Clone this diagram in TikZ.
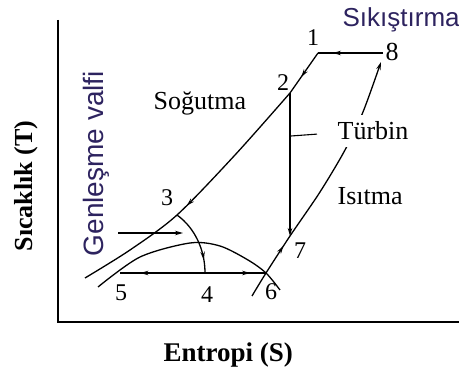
\documentclass[tikz,border=0pt]{standalone}
\usepackage{fontspec}
\setmainfont{Liberation Serif}
\newfontfamily\sansfont{Liberation Sans}
\usetikzlibrary{arrows.meta,decorations.markings}
\definecolor{navy}{RGB}{45,35,95}

\begin{document}
\begin{tikzpicture}[x=1pt, y=-1pt, line width=1.3pt, >={Stealth[length=8pt,width=4.5pt]},
    num/.style={font=\fontsize{24}{24}\selectfont, inner sep=0pt},
    lbl/.style={font=\fontsize{26}{26}\selectfont, inner sep=0pt},
    sans/.style={font=\sansfont\fontsize{26}{26}\selectfont, text=navy, inner sep=0pt},
    axlbl/.style={font=\bfseries\fontsize{27}{27}\selectfont, inner sep=0pt},
    midarrow/.style={postaction={decorate}, decoration={markings, mark=at position #1 with {\arrow{Stealth[length=8pt,width=4.5pt]}}}}]
        \useasboundingbox (0,0) rectangle (459,371);
        % state points
        \coordinate (p1) at (318,53);
        \coordinate (p8) at (383,53);
        \coordinate (p2) at (290,93);
        \coordinate (p3) at (177,215);
        \coordinate (p4) at (205,273);
        \coordinate (p5) at (120,273);
        \coordinate (p6) at (266,273);
        \coordinate (p7) at (290,236);
        \coordinate (send) at (85,278);
        \coordinate (vstart) at (118,233);
        \coordinate (vend) at (183,233);
        \coordinate (ytop) at (58,20);
        \coordinate (orig) at (58,322);
        \coordinate (xend) at (459,322);
        % axes
        \draw[line width=1.6pt] (ytop) -- (orig) -- (xend);
        \node[name=ylab, axlbl, font=\bfseries\fontsize{26}{26}\selectfont, rotate=90, anchor=base west] at (33,252) {Sıcaklık (T)};
        \node[name=xlab, axlbl, anchor=base west] at (163,362) {Entropi (S)};
        % cycle
        \draw[midarrow=0.77] (p8) -- (p1);
        \draw[midarrow=0.6] (p1) -- (p2);
        \draw[midarrow=0.55] plot[smooth] coordinates {(p2) (235,155) (p3) (130,250) (send)};
        \draw[->] (p2) -- (p7);
        \draw[midarrow=0.22, ->] plot[smooth] coordinates {(252,296) (p6) (p7) (320,192) (345,150) (363,112) (381,62)};
        \draw plot[smooth] coordinates {(98,287) (140,257) (190,243) (220,246) (248,260) (p6) (280,290)};
        \draw[midarrow=0.76] (p4) -- (p5);
        \draw[midarrow=0.74] (p4) -- (p6);
        \draw[midarrow=0.8] (p3) .. controls (195,228) and (205,250) .. (p4);
        \draw[->] (vstart) -- (vend);
        % labels
        \node[name=tur, lbl, fill=white, inner xsep=2pt, inner ysep=7pt, anchor=base west] at (335,140) {Türbin};
        \coordinate (tleg) at (291,136);
        \draw[line width=1.1pt] ([xshift=-18pt,yshift=-3pt]tur.west) -- (tleg);
        \node[name=isit, lbl, anchor=base west] at (337,205) {Isıtma};
        \node[name=sog, lbl, anchor=base west] at (153,110) {Soğutma};
        \node[name=sik, sans, anchor=base west] at (342,27) {Sıkıştırma};
        \node[name=gen, sans, font=\sansfont\fontsize{28}{28}\selectfont, rotate=90, anchor=base west] at (103,257) {Genleşme valfi};
        \node[name=n1, num] at (313,38) {1};
        \node[name=n2, num] at (283,83) {2};
        \node[name=n3, num] at (167,198) {3};
        \node[name=n4, num] at (207,295) {4};
        \node[name=n5, num] at (121,293) {5};
        \node[name=n6, num] at (271,292) {6};
        \node[name=n7, num] at (300,251) {7};
        \node[name=n8, num, font=\fontsize{26}{26}\selectfont] at (392,52) {8};
    \end{tikzpicture}
\end{document}
